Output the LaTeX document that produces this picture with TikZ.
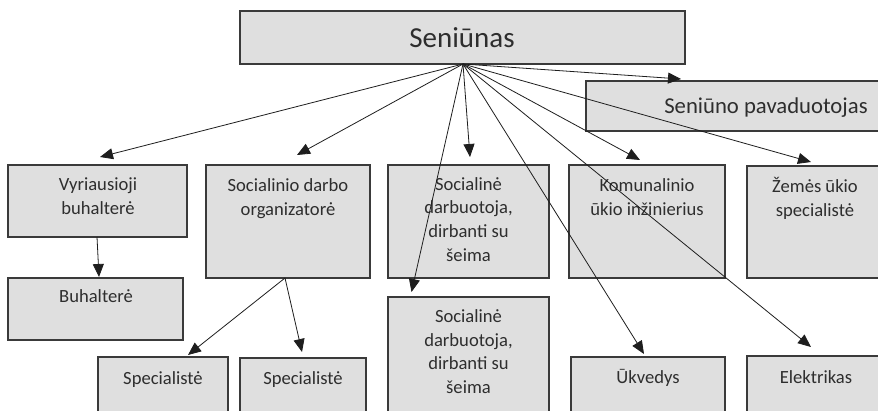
\documentclass[tikz,border=0pt]{standalone}
\usepackage{fontspec}
\setmainfont{Carlito}
\usetikzlibrary{arrows.meta}
\definecolor{boxfill}{HTML}{DFDFDF}
\definecolor{boxline}{HTML}{3A3A3A}
\definecolor{arrcol}{HTML}{1E1E1E}
\definecolor{txtcol}{HTML}{2E2E2E}
\begin{document}
\begin{tikzpicture}[x=1pt,y=1pt,
  box/.style={draw=boxline, fill=boxfill, line width=1.1pt, inner sep=0pt, outer sep=0pt},
  lbl/.style={font=\fontsize{18.6}{23.6}\selectfont, align=center, anchor=north, inner sep=0pt, text=txtcol},
  arr/.style={draw=arrcol, line width=0.8pt, -{Triangle[length=13pt,width=11pt]}}]
\useasboundingbox (0,0) rectangle (878,-410);
\fill[white] (0,0) rectangle (878,-410);
\clip (0,0) rectangle (878,-410);
% boxes
\node[box, minimum width=445pt, minimum height=53pt] (sen) at (462.5,-37.5) {};
\node[box, minimum width=314pt, minimum height=50pt] (pav) at (743,-106) {};
\node[box, minimum width=179pt, minimum height=72pt] (vyr) at (97.5,-201) {};
\node[box, minimum width=164pt, minimum height=113pt] (org) at (288,-221.5) {};
\node[box, minimum width=161pt, minimum height=113pt] (sda) at (468.5,-221.5) {};
\node[box, minimum width=156pt, minimum height=113pt] (kom) at (647,-221.5) {};
\node[box, minimum width=153pt, minimum height=112pt] (zem) at (823.5,-222) {};
\node[box, minimum width=175pt, minimum height=62pt] (buh) at (95.5,-309) {};
\node[box, minimum width=161pt, minimum height=133pt] (sdb) at (468.5,-363.5) {};
\node[box, minimum width=130pt, minimum height=73pt] (spa) at (163,-393.5) {};
\node[box, minimum width=126pt, minimum height=72pt] (spb) at (303,-394) {};
\node[box, minimum width=154pt, minimum height=73pt] (ukv) at (648,-393.5) {};
\node[box, minimum width=153pt, minimum height=74pt] (ele) at (823.5,-393) {};
% texts
\node[anchor=base, inner sep=0pt, text=txtcol, font=\fontsize{29}{34}\selectfont] (senT) at (462,-47) {Seniūnas};
\node[anchor=base, inner sep=0pt, text=txtcol, font=\fontsize{22.7}{27}\selectfont] (pavT) at (766,-113) {Seniūno pavaduotojas};
\node[lbl] (vyrT) at (98,-174) {\strut Vyriausioji\\buhalterė};
\node[lbl] (orgT) at (288,-175) {\strut Socialinio darbo\\organizatorė};
\node[lbl] (sdaT) at (468.5,-173.5) {\strut Socialinė\\darbuotoja,\\dirbanti su\\šeima};
\node[lbl] (komT) at (647,-175) {\strut Komunalinio\\ūkio inžinierius};
\node[lbl] (zemT) at (815,-176) {\strut Žemės ūkio\\specialistė};
\node[lbl] (buhT) at (96,-285.5) {\strut Buhalterė};
\node[lbl] (sdbT) at (468.5,-306) {\strut Socialinė\\darbuotoja,\\dirbanti su\\šeima};
\node[lbl] (spaT) at (163,-367.5) {\strut Specialistė};
\node[lbl] (spbT) at (303,-367.5) {\strut Specialistė};
\node[lbl] (ukvT) at (648,-366.5) {\strut Ūkvedys};
\node[lbl] (eleT) at (816,-366.5) {\strut Elektrikas};
% connector end points
\coordinate (src) at (463,-64);
\coordinate (tvyr) at (100,-157);
\coordinate (torg) at (297,-155);
\coordinate (tsda) at (470,-157);
\coordinate (tsdb) at (411.5,-292);
\coordinate (tpav) at (681,-79);
\coordinate (tkom) at (640,-160);
\coordinate (tzem) at (811,-162);
\coordinate (tukv) at (644,-354);
\coordinate (tele) at (811,-347);
\coordinate (vsrc) at (97,-237);
\coordinate (tbuh) at (99,-277);
\coordinate (osrc) at (285,-278);
\coordinate (tspa) at (188,-355);
\coordinate (tspb) at (302,-352);
% connectors
\draw[arr] (src) -- (tvyr);
\draw[arr] (src) -- (torg);
\draw[arr] (src) -- (tsda);
\draw[arr] (src) -- (tsdb);
\draw[arr] (src) -- (tpav);
\draw[arr] (src) -- (tkom);
\draw[arr] (src) -- (tzem);
\draw[arr] (src) -- (tukv);
\draw[arr] (src) -- (tele);
\draw[arr] (vsrc) -- (tbuh);
\draw[arr] (osrc) -- (tspa);
\draw[arr] (osrc) -- (tspb);
\end{tikzpicture}
\end{document}
